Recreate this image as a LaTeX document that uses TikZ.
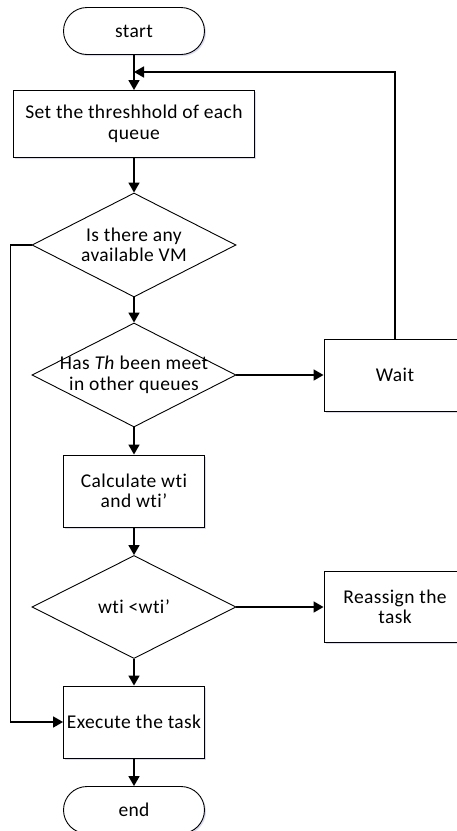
\documentclass[tikz,border=0pt]{standalone}
\usepackage{fontspec}
\setmainfont{Carlito}[Ligatures=NoCommon, LetterSpace=2]
\usetikzlibrary{shapes.geometric,shapes.misc,arrows.meta,shadows}

\newcommand{\nowidth}[1]{\makebox[0pt]{#1}}

\tikzset{
  every node/.style={font=\fontsize{19.5}{20.5}\selectfont, inner sep=0pt},
  shade/.style={drop shadow={shadow xshift=1.5pt, shadow yshift=-1.5pt, fill=blue!60!black, opacity=0.15}},
  term/.style={draw, rounded rectangle, line width=0.9pt, fill=white, shade, minimum width=141pt, minimum height=47pt},
  stepbox/.style={draw, rectangle, line width=0.9pt, fill=white, shade, align=center},
  test/.style={draw, diamond, line width=0.9pt, fill=white, align=center, minimum width=204pt, minimum height=104pt},
  flow/.style={-{Triangle[length=10pt,width=11pt]}, line width=1.7pt}
}

\begin{document}
\begin{tikzpicture}[x=1pt,y=-1pt]
  \useasboundingbox (0,0) rectangle (457,831);
  \draw
    (134,31) node[term] (start){start}
    (134,124) node[stepbox, minimum width=241pt, minimum height=67pt] (set){Set the threshhold of each\\queue}
    (134,245) node[test] (avail){\nowidth{Is there any}\\\nowidth{available VM}}
    (134,375) node[test] (meet){\nowidth{Has \textit{Th} been meet}\\\nowidth{in other queues}}
    (395,375) node[stepbox, minimum width=142pt, minimum height=72pt] (wait){Wait}
    (134,491) node[stepbox, minimum width=141pt, minimum height=72pt] (calc){Calculate wti\\and wti’}
    (134,607) node[test, minimum height=103pt] (cmp){\nowidth{wti <wti’}}
    (395,607) node[stepbox, minimum width=142pt, minimum height=71pt] (reassign){Reassign the\\task}
    (134,722) node[stepbox, minimum width=141pt, minimum height=72pt] (exec){Execute the task}
    (134,810) node[term] (end){end};
  \coordinate (back) at (134,72);
  \begin{scope}[flow]
    \draw (start) to (set);
    \draw (set) to (avail);
    \draw (avail) to (meet);
    \draw (meet) to (wait);
    \draw (meet) to (calc);
    \draw (wait.north) |- (back);
    \draw (calc) to (cmp);
    \draw (cmp) to (reassign);
    \draw (cmp) to (exec);
    \draw (avail.west) -- ++(-21,0) |- (exec.west);
    \draw (exec) to (end);
  \end{scope}
\end{tikzpicture}
\end{document}
